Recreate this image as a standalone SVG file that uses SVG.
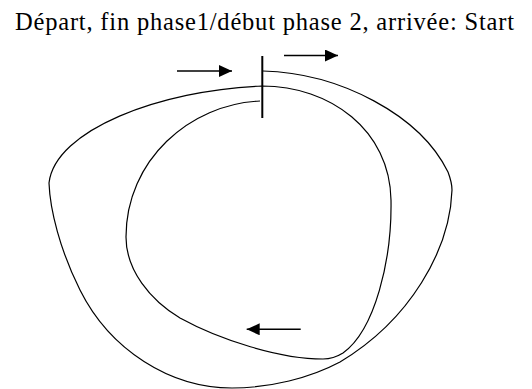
<svg xmlns="http://www.w3.org/2000/svg" width="532" height="389" viewBox="0 0 532 389">
<style>
.curve{fill:none;stroke:#000;stroke-width:1.2}
.arr{fill:none;stroke:#000;stroke-width:1.6}
.title{font-family:"Liberation Serif","Times New Roman",serif;font-size:24.5px;fill:#000}
</style>
<defs>
<marker id="ah" markerUnits="userSpaceOnUse" markerWidth="14" markerHeight="12" refX="13" refY="6" orient="auto">
<path d="M0,0 L13,6 L0,12 Z" fill="#000"/>
</marker>
</defs>
<rect width="532" height="389" fill="#fff"/>
<text class="title" x="15" y="29.5" textLength="499" lengthAdjust="spacing">Départ, fin phase1/début phase 2, arrivée: Start</text>
<g id="track">
<path class="curve" d="M263,71 C340,73 420,115 448,172 C451,180 452,185 452,190 C450,250 410,320 340,362 C310,378 270,388 232,388 C170,388 110,350 80,290 C60,250 50,210 49,183 C55,130 160,90 262,86 C330,86 390,130 391,200 C392,260 375,330 343,353 C335,358 330,359 323,359 C280,359 220,340 180,318 C150,300 126,270 126,237 C126,160 190,104 260,101"/>
</g>
<g id="start">
<line x1="262.3" y1="56" x2="262.3" y2="118" stroke="#000" stroke-width="2"/>
</g>
<g id="arrows">
<line class="arr" x1="177" y1="71" x2="232" y2="71" marker-end="url(#ah)"/>
<line class="arr" x1="284" y1="55.5" x2="338" y2="55.5" marker-end="url(#ah)"/>
<line class="arr" x1="300.7" y1="329.3" x2="246.7" y2="329.3" marker-end="url(#ah)"/>
</g>
</svg>
